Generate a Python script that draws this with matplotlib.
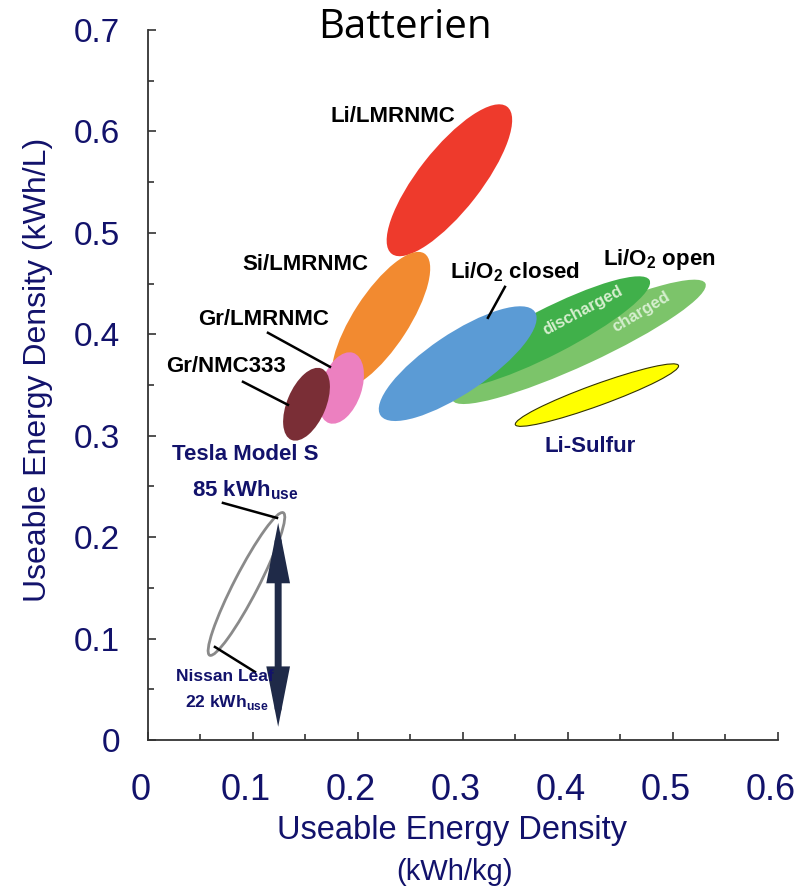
import matplotlib
matplotlib.use("Agg")
import matplotlib.pyplot as plt
import matplotlib.transforms as mtransforms
from matplotlib.patches import Ellipse, FancyArrowPatch

plt.rcParams['font.family'] = ['Liberation Sans', 'DejaVu Sans']
plt.rcParams['mathtext.fontset'] = 'custom'
plt.rcParams['mathtext.rm'] = 'Liberation Sans:bold'
plt.rcParams['mathtext.bf'] = 'Liberation Sans:bold'

NAVY = '#12126b'

# ellipses: name, centre x, centre y, major, minor, angle, fill, edge
names = ['Li-Sulfur', 'charged', 'discharged', 'Li/O2 closed',
         'Li/LMRNMC', 'Si/LMRNMC', 'Gr/LMRNMC', 'Gr/NMC333', 'EV']
cx = [0.4276, 0.4105, 0.381, 0.295, 0.2871, 0.222, 0.184, 0.151, 0.0938]
cy = [0.340, 0.3925, 0.402, 0.371, 0.5518, 0.414, 0.347, 0.331, 0.1538]
major = [0.166, 0.267, 0.219, 0.179, 0.182, 0.155, 0.073, 0.076, 0.157]
minor = [0.021, 0.046, 0.045, 0.058, 0.060, 0.053, 0.039, 0.037, 0.023]
angle = [20.6, 25.6, 28, 35, 53, 58, 72, 68, 63.5]
fills = ['#ffff00', '#7cc46a', '#40b04a', '#5b9bd5', '#ee3a2c',
         '#f28a30', '#ec80c0', '#7a2e36', 'none']
edges = ['#333300', 'none', 'none', 'none', 'none', 'none', 'none',
         'none', '#8a8a8a']

# labels: text, x, y, size, colour
lab_text = ['Li/LMRNMC', 'Si/LMRNMC', 'Gr/LMRNMC', 'Gr/NMC333',
            r'Li/O$_\mathbf{2}$ closed', r'Li/O$_\mathbf{2}$ open', 'Li-Sulfur',
            'Tesla Model S', r'85 kWh$_\mathbf{use}$',
            'Nissan Leaf', r'22 kWh$_\mathbf{use}$']
lab_x = [0.2333, 0.1495, 0.1105, 0.0743, 0.3495, 0.4867, 0.421,
         0.0924, 0.0924, 0.0733, 0.0752]
lab_y = [0.6144, 0.4684, 0.4142, 0.3679, 0.4615, 0.4734, 0.289,
         0.2811, 0.2465, 0.0621, 0.0365]
lab_size = [16, 16, 16, 16, 16, 16, 16, 16, 16, 12.5, 12.5]
lab_col = ['black'] * 6 + [NAVY] * 5

# leader lines: (x0, y0, x1, y1)
leaders = [(0.1143, 0.4014, 0.1733, 0.3679),
           (0.0905, 0.3531, 0.1333, 0.3304),
           (0.3400, 0.4467, 0.3238, 0.4162),
           (0.0714, 0.2337, 0.1229, 0.2189),
           (0.0638, 0.0917, 0.1019, 0.0671)]

# double arrow between the two cars
arrow_x = 0.124
arrow_y = (0.013, 0.214)

xticks = [0, 0.1, 0.2, 0.3, 0.4, 0.5, 0.6]
xtick_labels = ['0', '0.1', '0.2', '0.3', '0.4', '0.5', '0.6']
yticks = [0, 0.1, 0.2, 0.3, 0.4, 0.5, 0.6, 0.7]
ytick_labels = ['0', '0.1', '0.2', '0.3', '0.4', '0.5', '0.6', '0.7']

fig = plt.figure(figsize=(8.09, 8.91), dpi=100)
ax = fig.add_axes([0.1829, 0.1695, 0.7787, 0.7969])
ax.set_xlim(0, 0.6)
ax.set_ylim(0, 0.7)

for i in range(len(names)):
    lw = 0.8 if names[i] == 'Li-Sulfur' else 2
    e = Ellipse((cx[i], cy[i]), major[i], minor[i], angle=angle[i],
                facecolor=fills[i], edgecolor=edges[i], lw=lw)
    ax.add_patch(e)

for x0, y0, x1, y1 in leaders:
    ax.plot([x0, x1], [y0, y1], color='black', lw=1.8)

for t, x, y, s, c in zip(lab_text, lab_x, lab_y, lab_size, lab_col):
    ax.text(x, y, t, fontsize=s, color=c, fontweight='bold',
            ha='center', va='center')

ax.text(0.4143, 0.4231, 'discharged', rotation=28, fontsize=12,
        fontweight='bold', color='#d6efcf', ha='center', va='center')
ax.text(0.4695, 0.4221, 'charged', rotation=31, fontsize=12,
        fontweight='bold', color='#d6efcf', ha='center', va='center')

arrow = FancyArrowPatch((arrow_x, arrow_y[0]), (arrow_x, arrow_y[1]),
                        arrowstyle='<|-|>,head_length=2.8,head_width=0.55',
                        mutation_scale=10, lw=5, color='#1f2a48',
                        shrinkA=0, shrinkB=0, joinstyle='miter')
ax.add_patch(arrow)

for s in ['top', 'right']:
    ax.spines[s].set_visible(False)
for s in ['left', 'bottom']:
    ax.spines[s].set_color('#333333')
    ax.spines[s].set_linewidth(1.3)

ax.set_xticks(xticks)
ax.set_xticklabels(xtick_labels, fontsize=26, color=NAVY)
ax.set_yticks(yticks)
ax.set_yticklabels(ytick_labels, fontsize=24, color=NAVY)
ax.set_xticks([0.05, 0.15, 0.25, 0.35, 0.45, 0.55], minor=True)
ax.set_yticks([0.05, 0.15, 0.25, 0.35, 0.45, 0.55, 0.65], minor=True)
ax.tick_params(which='major', direction='in', length=6, width=1.2,
               color='#333333')
ax.tick_params(which='minor', direction='in', length=4, width=1.2,
               color='#333333')
ax.tick_params(axis='y', pad=20)
ax.tick_params(axis='x', pad=24)
shift = mtransforms.ScaledTranslation(-7 / 100, 0, fig.dpi_scale_trans)
for lbl in ax.get_xticklabels():
    lbl.set_transform(lbl.get_transform() + shift)

fig.text(405 / 809, 1 - 28 / 891, 'Batterien', fontsize=29,
         family=['Open Sans', 'DejaVu Sans'], ha='center', va='center')
fig.text(452 / 809, 1 - 830 / 891, 'Useable Energy Density', fontsize=23.5,
         color=NAVY, ha='center', va='center')
fig.text(455 / 809, 1 - 872 / 891, '(kWh/kg)', fontsize=21,
         color=NAVY, ha='center', va='center')
fig.text(38 / 809, 1 - 370 / 891, 'Useable Energy Density (kWh/L)',
         fontsize=23, color=NAVY, rotation=90,
         ha='center', va='center')

fig.savefig('out.png', dpi=100)
